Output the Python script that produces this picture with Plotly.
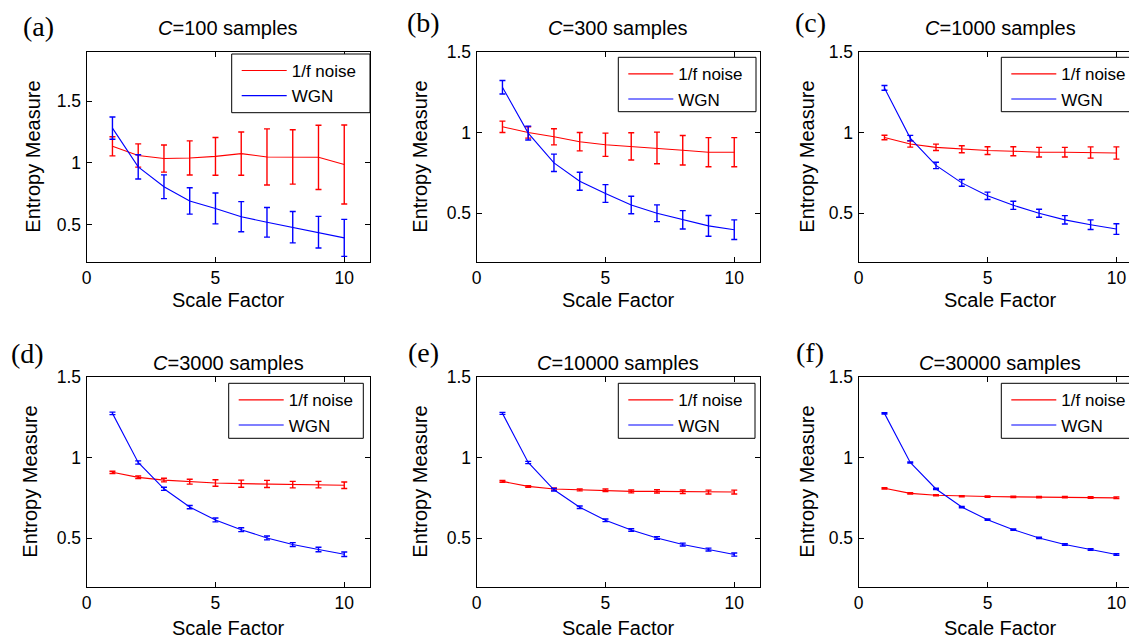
import plotly.graph_objects as go

# ---------------- data ----------------
scale = [1, 2, 3, 4, 5, 6, 7, 8, 9, 10]
panel_labels = ["(a)", "(b)", "(c)", "(d)", "(e)", "(f)"]
sample_sizes = ["100", "300", "1000", "3000", "10000", "30000"]

red_a = [1.134, 1.06, 1.035, 1.04, 1.053, 1.075, 1.048, 1.048, 1.045, 0.987]
red_a_err = [0.077, 0.094, 0.11, 0.138, 0.153, 0.175, 0.227, 0.22, 0.26, 0.32]
blue_a = [1.281, 0.968, 0.807, 0.692, 0.631, 0.564, 0.519, 0.479, 0.439, 0.393]
blue_a_err = [0.09, 0.098, 0.096, 0.107, 0.125, 0.122, 0.12, 0.127, 0.128, 0.15]

red_b = [1.035, 1.0, 0.973, 0.943, 0.924, 0.914, 0.904, 0.89, 0.878, 0.878]
red_b_err = [0.035, 0.035, 0.05, 0.057, 0.072, 0.084, 0.098, 0.091, 0.09, 0.09]
blue_b = [1.28, 0.996, 0.812, 0.698, 0.622, 0.551, 0.5, 0.459, 0.422, 0.398]
blue_b_err = [0.042, 0.043, 0.054, 0.056, 0.055, 0.054, 0.052, 0.057, 0.064, 0.061]

red_c = [0.969, 0.929, 0.908, 0.896, 0.888, 0.884, 0.878, 0.878, 0.876, 0.873]
red_c_err = [0.014, 0.02, 0.02, 0.022, 0.024, 0.028, 0.03, 0.03, 0.035, 0.038]
blue_c = [1.276, 0.965, 0.796, 0.688, 0.608, 0.549, 0.5, 0.459, 0.429, 0.402]
blue_c_err = [0.015, 0.017, 0.02, 0.021, 0.023, 0.025, 0.025, 0.026, 0.03, 0.033]

red_d = [0.908, 0.877, 0.86, 0.85, 0.842, 0.838, 0.836, 0.832, 0.832, 0.828]
red_d_err = [0.007, 0.008, 0.011, 0.015, 0.02, 0.022, 0.022, 0.02, 0.02, 0.02]
blue_d = [1.273, 0.969, 0.806, 0.693, 0.613, 0.553, 0.502, 0.461, 0.43, 0.401]
blue_d_err = [0.008, 0.01, 0.01, 0.01, 0.012, 0.012, 0.012, 0.012, 0.014, 0.014]

red_e = [0.852, 0.821, 0.805, 0.799, 0.797, 0.79, 0.79, 0.788, 0.786, 0.786]
red_e_err = [0.005, 0.005, 0.007, 0.006, 0.008, 0.009, 0.01, 0.011, 0.012, 0.012]
blue_e = [1.273, 0.969, 0.80, 0.692, 0.611, 0.551, 0.502, 0.461, 0.43, 0.399]
blue_e_err = [0.006, 0.007, 0.008, 0.008, 0.008, 0.008, 0.008, 0.009, 0.009, 0.01]

red_f = [0.809, 0.778, 0.766, 0.76, 0.758, 0.756, 0.754, 0.754, 0.752, 0.75]
red_f_err = [0.004, 0.004, 0.004, 0.004, 0.004, 0.004, 0.004, 0.004, 0.005, 0.005]
blue_f = [1.273, 0.969, 0.805, 0.693, 0.615, 0.553, 0.502, 0.461, 0.43, 0.399]
blue_f_err = [0.004, 0.004, 0.004, 0.004, 0.004, 0.004, 0.004, 0.005, 0.005, 0.005]

x_ticks = [0, 5, 10]
x_tick_text = ["0", "5", "10"]
y_ticks = [0.5, 1, 1.5]
y_tick_text = ["0.5", "1", "1.5"]

red_series = [red_a, red_b, red_c, red_d, red_e, red_f]
red_errors = [red_a_err, red_b_err, red_c_err, red_d_err, red_e_err, red_f_err]
blue_series = [blue_a, blue_b, blue_c, blue_d, blue_e, blue_f]
blue_errors = [blue_a_err, blue_b_err, blue_c_err, blue_d_err, blue_e_err, blue_f_err]

# ---------------- layout geometry (pixels in the 1137x640 window) ----------------
OFF = 8  # default page margin of the html body
W, H = 1137 - OFF, 640 - OFF
PANEL_W = 283.3
cols = [(86.7, 370.0, [0, 11]), (476.7, 760.0, [0, 11]), (858.7, 1137.0, [0, 10.8])]
rows = [(51.7, 261.7), (376.7, 586.7)]
y_ranges = [[0.2, 1.9], [0.2, 1.5], [0.2, 1.5], [0.2, 1.5], [0.2, 1.5], [0.2, 1.5]]
# legend boxes: left, top, right, bottom
legend_box = [(231.7, 54.0, 370.0, 112.7), (618.3, 57.3, 756.0, 111.7),
              (1001.3, 57.3, 1136.5, 111.7), (228.7, 383.3, 363.3, 438.3),
              (618.3, 383.3, 755.0, 438.3), (1001.3, 383.3, 1136.5, 438.3)]
label_pos = [(38, 26), (423, 22), (810, 22), (27, 353), (423, 352), (810, 352)]
title_y = [28, 28, 28, 363, 363, 363]
xtitle_y = [300, 300, 300, 628, 628, 628]
ytitle_x = [33, 420, 807, 30, 420, 807]

RED = "rgb(255,0,0)"
BLUE = "rgb(0,0,255)"
SANS = "Liberation Sans, Arial, sans-serif"
SERIF = "Liberation Serif, Times New Roman, serif"

def px_x(p):
    return (p - OFF) / W

def px_y(p):
    return 1 - (p - OFF) / H

fig = go.Figure()
layout = dict(
    template="none",
    width=W, height=H,
    margin=dict(l=0, r=0, t=0, b=0, pad=0, autoexpand=False),
    paper_bgcolor="white", plot_bgcolor="white",
    font=dict(family=SANS, size=17, color="black"),
)
annotations = []
shapes = []

for i in range(6):
    r, c = divmod(i, 3)
    left, right, xr = cols[c]
    top, bottom = rows[r]
    ax = "" if i == 0 else str(i + 1)
    xa, ya = "x" + ax, "y" + ax
    leg = "legend" if i == 0 else "legend" + str(i + 1)

    fig.add_trace(go.Scatter(
        x=scale, y=red_series[i], mode="lines", name="1/f noise",
        line=dict(color=RED, width=1.1),
        error_y=dict(type="data", array=red_errors[i], color=RED, thickness=1.4, width=3),
        xaxis=xa, yaxis=ya, legend=leg, showlegend=True))
    fig.add_trace(go.Scatter(
        x=scale, y=blue_series[i], mode="lines", name="WGN",
        line=dict(color=BLUE, width=1.1),
        error_y=dict(type="data", array=blue_errors[i], color=BLUE, thickness=1.4, width=3),
        xaxis=xa, yaxis=ya, legend=leg, showlegend=True))

    mirror_y = "ticks" if c < 2 else False
    layout["xaxis" + ax] = dict(
        domain=[px_x(left), min(1.0, px_x(right))], range=xr, anchor=ya, automargin=False,
        tickvals=x_ticks, ticktext=x_tick_text, ticks="inside", ticklen=5,
        tickcolor="black", tickwidth=1, showline=True, linecolor="black", linewidth=1.3,
        mirror="ticks", showgrid=False, zeroline=False,
        tickfont=dict(family=SANS, size=17.5))
    layout["yaxis" + ax] = dict(
        domain=[px_y(bottom), px_y(top)], range=y_ranges[i], anchor=xa, automargin=False,
        tickvals=y_ticks, ticktext=y_tick_text, ticks="inside", ticklen=5,
        tickcolor="black", tickwidth=1, showline=True, linecolor="black", linewidth=1.3,
        mirror=mirror_y, showgrid=False, zeroline=False,
        tickfont=dict(family=SANS, size=17.5), ticklabelstandoff=1)

    bl, bt, br, bb = legend_box[i]
    shapes.append(dict(
        type="rect", xref="paper", yref="paper",
        x0=px_x(bl), x1=px_x(br), y0=px_y(bb), y1=px_y(bt),
        line=dict(color="black", width=1), fillcolor="white", layer="above"))
    layout[leg] = dict(
        x=px_x(bl + 5), y=px_y(bt - 1), xanchor="left", yanchor="top",
        xref="paper", yref="paper",
        bgcolor="rgba(0,0,0,0)", borderwidth=0,
        font=dict(family=SANS, size=17), itemwidth=45,
        tracegroupgap=0)

    lbx, lby = label_pos[i]
    annotations.append(dict(
        x=px_x(lbx), y=px_y(lby), xref="paper", yref="paper",
        text=panel_labels[i], showarrow=False, xanchor="center", yanchor="middle",
        font=dict(family=SERIF, size=28)))
    annotations.append(dict(
        x=px_x(left + PANEL_W / 2), y=px_y(title_y[i]), xref="paper", yref="paper",
        text="<i>C</i>=" + sample_sizes[i] + " samples", showarrow=False,
        xanchor="center", yanchor="middle", font=dict(family=SANS, size=20)))
    annotations.append(dict(
        x=px_x(left + PANEL_W / 2), y=px_y(xtitle_y[i]), xref="paper", yref="paper",
        text="Scale Factor", showarrow=False,
        xanchor="center", yanchor="middle", font=dict(family=SANS, size=20)))
    annotations.append(dict(
        x=px_x(ytitle_x[i]), y=px_y((top + bottom) / 2), xref="paper", yref="paper",
        text="Entropy Measure", showarrow=False, textangle=-90,
        xanchor="center", yanchor="middle", font=dict(family=SANS, size=20)))

layout["annotations"] = annotations
layout["shapes"] = shapes
fig.update_layout(**layout)
fig.write_html("out.html")
